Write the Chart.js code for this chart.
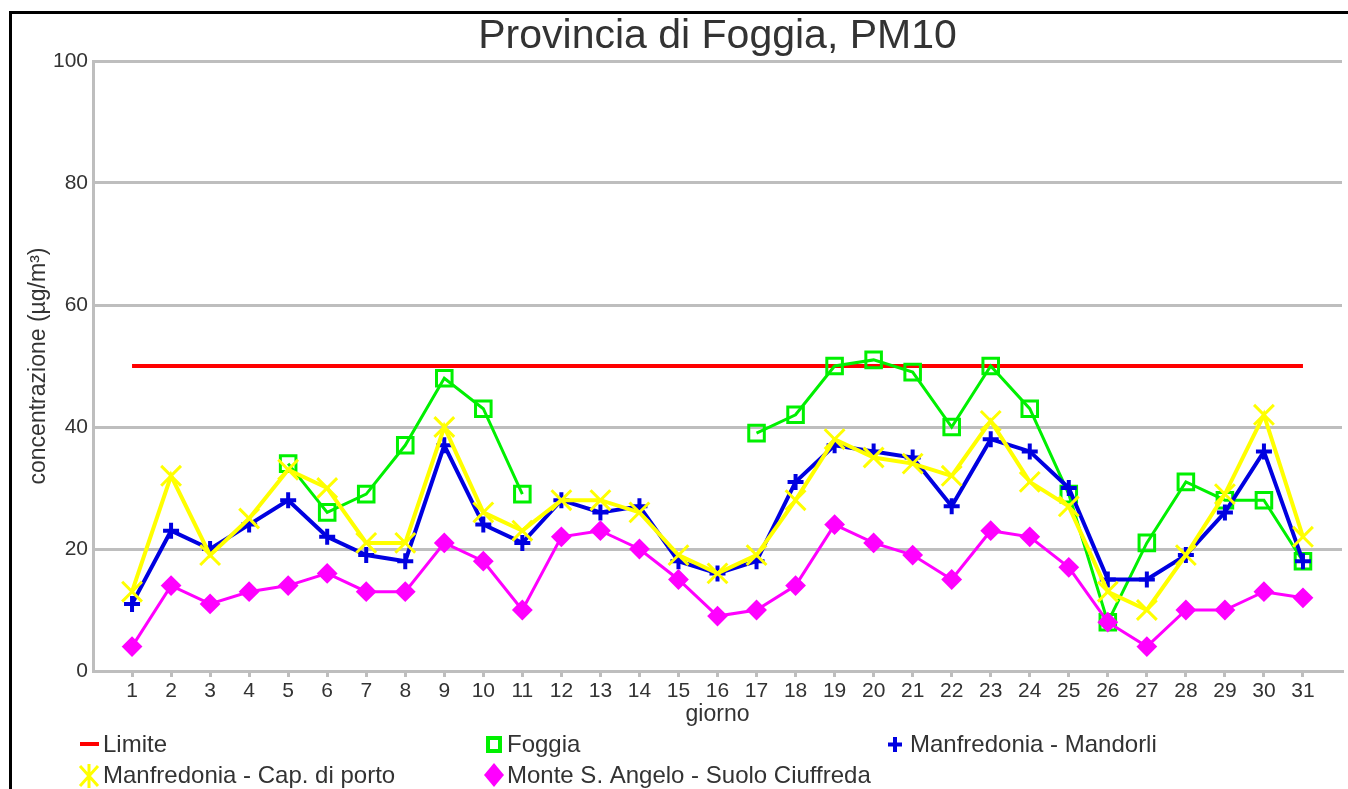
<!DOCTYPE html>
<html>
<head>
<meta charset="utf-8">
<script src="https://cdn.jsdelivr.net/npm/chart.js@4.4.1/dist/chart.umd.min.js"></script>
<style>
  html, body { margin: 0; padding: 0; background: #fff; }
  #wrap { width: 1348px; height: 789px; }
</style>
</head>
<body>
<div id="wrap"><canvas id="c" width="1348" height="789"></canvas></div>
<script>
const days = [1, 2, 3, 4, 5, 6, 7, 8, 9, 10, 11, 12, 13, 14, 15, 16, 17, 18, 19, 20, 21, 22, 23, 24, 25, 26, 27, 28, 29, 30, 31]
const limite = [50, 50, 50, 50, 50, 50, 50, 50, 50, 50, 50, 50, 50, 50, 50, 50, 50, 50, 50, 50, 50, 50, 50, 50, 50, 50, 50, 50, 50, 50, 50]
const foggia = [null, null, null, null, 34, 26, 29, 37, 48, 43, 29, null, null, null, null, null, 39, 42, 50, 51, 49, 40, 50, 43, 29, 8, 21, 31, 28, 28, 18]
const mandorli = [11, 23, 20, 24, 28, 22, 19, 18, 37, 24, 21, 28, 26, 27, 18, 16, 18, 31, 37, 36, 35, 27, 38, 36, 30, 15, 15, 19, 26, 36, 18]
const capPorto = [13, 32, 19, 25, 33, 30, 21, 21, 40, 26, 23, 28, 28, 26, 19, 16, 19, 28, 38, 35, 34, 32, 41, 31, 27, 13, 10, 19, 29, 42, 22]
const monteSA = [4, 14, 11, 13, 14, 16, 13, 13, 21, 18, 10, 22, 23, 20, 15, 9, 10, 14, 24, 21, 19, 15, 23, 22, 17, 8, 4, 10, 10, 13, 12]
const yTicks = [0, 20, 40, 60, 80, 100]

const FONT = '"Liberation Sans", Arial, sans-serif'
const TEXT = '#333'
const GRID = '#bebebe'

const pts = arr => days.map((d, i) => ({ x: d, y: arr[i] }))

// frame, title and the 3-column legend are drawn by hand
const decor = {
  id: 'decor',
  beforeDraw(chart) {
    const ctx = chart.ctx
    ctx.save()
    ctx.fillStyle = '#fff'
    ctx.fillRect(0, 0, chart.width, chart.height)
    ctx.restore()
  },
  afterDraw(chart) {
    const ctx = chart.ctx
    const a = chart.chartArea
    ctx.save()

    ctx.strokeStyle = '#000'
    ctx.lineWidth = 3
    ctx.beginPath()
    ctx.moveTo(10.5, chart.height)
    ctx.lineTo(10.5, 12.5)
    ctx.lineTo(chart.width, 12.5)
    ctx.stroke()

    ctx.fillStyle = TEXT
    ctx.font = '41px ' + FONT
    ctx.textAlign = 'center'
    ctx.textBaseline = 'alphabetic'
    ctx.fillText('Provincia di Foggia, PM10', (a.left + a.right) / 2, 48)

    // legend markers
    ctx.fillStyle = '#ff0000'
    ctx.fillRect(80, 742, 19, 4)

    ctx.strokeStyle = '#00f000'
    ctx.lineWidth = 4
    ctx.strokeRect(488, 738, 12, 13)

    ctx.strokeStyle = '#0000e0'
    ctx.beginPath()
    ctx.moveTo(888, 744.5); ctx.lineTo(902, 744.5)
    ctx.moveTo(895, 737); ctx.lineTo(895, 752)
    ctx.stroke()

    ctx.strokeStyle = '#ffff00'
    ctx.lineWidth = 3
    ctx.beginPath()
    ctx.moveTo(80, 766); ctx.lineTo(98, 786)
    ctx.moveTo(98, 766); ctx.lineTo(80, 786)
    ctx.moveTo(89, 764); ctx.lineTo(89, 788)
    ctx.stroke()

    ctx.fillStyle = '#ff00ff'
    ctx.beginPath()
    ctx.moveTo(494, 763); ctx.lineTo(504, 775); ctx.lineTo(494, 787); ctx.lineTo(484, 775)
    ctx.closePath()
    ctx.fill()

    ctx.fillStyle = TEXT
    ctx.font = '24px ' + FONT
    ctx.textAlign = 'left'
    ctx.textBaseline = 'middle'
    const labels = chart.data.datasets.map(ds => ds.label)
    ctx.fillText(labels[0], 103, 745)
    ctx.fillText(labels[1], 507, 745)
    ctx.fillText(labels[2], 910, 745)
    ctx.fillText(labels[3], 103, 776)
    ctx.fillText(labels[4], 507, 776)

    ctx.restore()
  }
}

Chart.defaults.font.family = FONT
Chart.defaults.color = TEXT

new Chart(document.getElementById('c'), {
  type: 'line',
  data: {
    datasets: [
      {
        label: 'Limite',
        data: pts(limite),
        borderColor: '#ff0000',
        borderWidth: 4,
        pointRadius: 0,
        order: 5,
      },
      {
        label: 'Foggia',
        data: pts(foggia),
        borderColor: '#00f000',
        borderWidth: 3,
        pointStyle: 'rect',
        pointRadius: 11,
        pointBorderWidth: 3,
        pointBorderColor: '#00f000',
        pointBackgroundColor: 'rgba(0,0,0,0)',
        spanGaps: false,
        order: 4,
      },
      {
        label: 'Manfredonia - Mandorli',
        data: pts(mandorli),
        borderColor: '#0000e0',
        borderWidth: 4,
        pointStyle: 'cross',
        pointRadius: 8,
        pointBorderWidth: 4,
        pointBorderColor: '#0000e0',
        order: 3,
      },
      {
        label: 'Manfredonia - Cap. di porto',
        data: pts(capPorto),
        borderColor: '#ffff00',
        borderWidth: 4,
        pointStyle: 'crossRot',
        pointRadius: 14,
        pointBorderWidth: 3,
        pointBorderColor: '#ffff00',
        order: 2,
      },
      {
        label: 'Monte S. Angelo - Suolo Ciuffreda',
        data: pts(monteSA),
        borderColor: '#ff00ff',
        borderWidth: 3,
        pointStyle: 'rectRot',
        pointRadius: 9,
        pointBorderWidth: 2,
        pointBorderColor: '#ff00ff',
        pointBackgroundColor: '#ff00ff',
        order: 1,
      },
    ],
  },
  options: {
    responsive: false,
    animation: false,
    events: [],
    layout: { autoPadding: false, padding: { left: 10, top: 61, right: 6, bottom: 0 } },
    plugins: {
      legend: { display: false },
      title: { display: false },
      tooltip: { enabled: false },
    },
    scales: {
      x: {
        type: 'linear',
        min: 0,
        max: 32,
        afterBuildTicks: s => { s.ticks = days.map(d => ({ value: d })) },
        afterFit: s => {
          s.height = 118
          s.paddingLeft = 0
          s.paddingRight = 0
        },
        ticks: { color: TEXT, font: { size: 21 }, padding: 2, autoSkip: false, maxRotation: 0 },
        grid: { drawOnChartArea: false, drawTicks: true, tickLength: 6, color: GRID, lineWidth: 3 },
        border: { color: GRID, width: 3 },
        title: { display: true, text: 'giorno', color: TEXT, font: { size: 23 }, padding: { top: 0, bottom: 61 } },
      },
      y: {
        min: 0,
        max: 100,
        afterBuildTicks: s => { s.ticks = yTicks.map(v => ({ value: v })) },
        afterFit: s => { s.width = 83 },
        ticks: { color: TEXT, font: { size: 21 }, padding: 5 },
        grid: { color: GRID, lineWidth: 3, drawTicks: false },
        border: { color: GRID, width: 3 },
        title: { display: true, text: 'concentrazione (µg/m³)', color: TEXT, font: { size: 23 }, padding: { top: 15, bottom: 0 } },
      },
    },
  },
  plugins: [decor],
})
</script>
</body>
</html>
